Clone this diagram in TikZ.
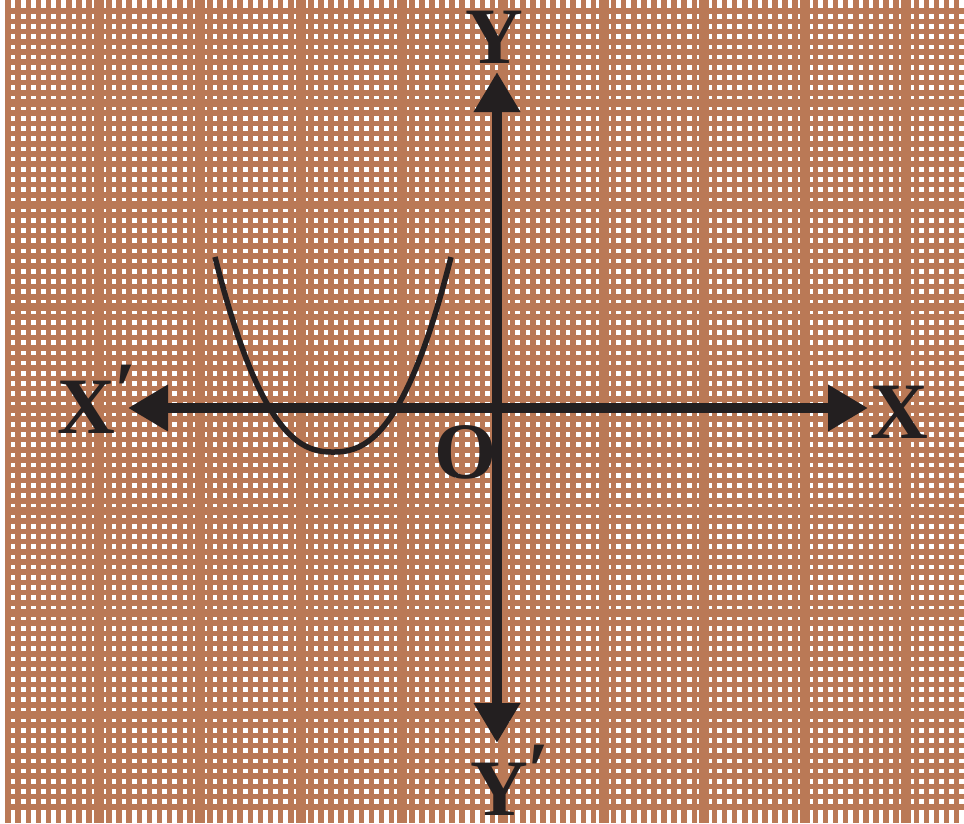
\documentclass[tikz,border=0pt]{standalone}
\usepackage{fontspec}
\setmainfont{Liberation Serif}
\usetikzlibrary{arrows.meta}
\definecolor{paper}{RGB}{186,121,86}
\definecolor{ink}{RGB}{35,31,32}
\begin{document}
\begin{tikzpicture}[x=1pt,y=-1pt,
  minor/.style={draw=paper,line width=5.6pt},
  majorv/.style={draw=paper,line width=10pt},
  majorh/.style={draw=paper,line width=8pt},
  axis/.style={draw=ink,line width=10pt,{Triangle[length=40pt,width=44pt]}-{Triangle[length=40pt,width=44pt]}},
  curve/.style={draw=ink,line width=5.5pt},
  lab/.style={text=ink,inner sep=0pt,font=\fontsize{80}{80}\selectfont\bfseries,anchor=base west}]
\fill[white] (0,0) rectangle (964,823);
\useasboundingbox (0,0) rectangle (964,823);
% graph paper
\foreach \k in {-9,...,86} \draw[minor] ({99+10.09*\k},0) -- ({99+10.09*\k},823);
\foreach \k in {-9,...,69} \draw[minor] (5,{103+10.2*\k}) -- (964,{103+10.2*\k});
\foreach \m in {0,...,8} \draw[majorv] ({99+100.9*\m},0) -- ({99+100.9*\m},823);
\foreach \m in {0,...,6} \draw[majorh] (5,{103+102*\m}) -- (964,{103+102*\m});
% curve
\draw[curve] plot[domain=-1:1,samples=80,smooth] ({333+118*\x},{452-195*(abs(\x)+0.0001)^2.4});
% axes
\coordinate (xl) at (128,408);
\coordinate (xr) at (868,408);
\coordinate (yt) at (497,72);
\coordinate (yb) at (497,743);
\draw[axis] (xl) -- (xr);
\draw[axis] (yb) -- (yt);
% labels
\node[lab] (xlab) at (870,438) {X};
\node[lab] (xplab) at (57,433) {X\raisebox{16pt}{′}};
\node[lab] (ylab) at (465,63) {Y};
\node[lab] (yplab) at (470,815) {Y\raisebox{18pt}{′}};
\node[lab] (olab) at (434,478) {O};
\end{tikzpicture}
\end{document}
